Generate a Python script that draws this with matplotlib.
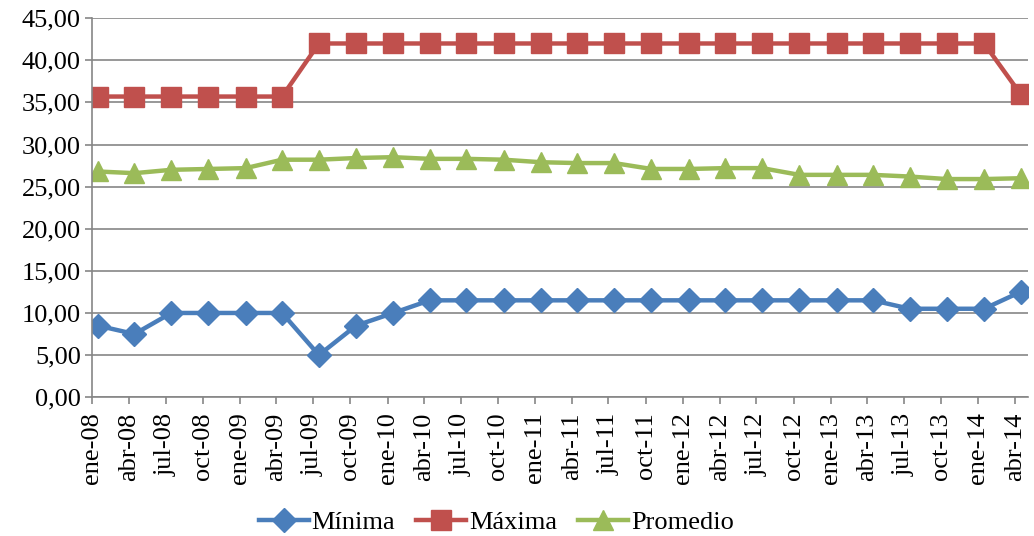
import matplotlib
matplotlib.use("Agg")
import matplotlib.pyplot as plt
import matplotlib.dates as mdates
from matplotlib.ticker import FuncFormatter, MultipleLocator
import pandas as pd

# quarterly readings, Jan 2008 - Apr 2014
minima = [8.5, 7.5, 10.0, 10.0, 10.0, 10.0, 5.0, 8.5, 10.0, 11.5,
          11.5, 11.5, 11.5, 11.5, 11.5, 11.5, 11.5, 11.5, 11.5, 11.5,
          11.5, 11.5, 10.5, 10.5, 10.5, 12.5]
maxima = [35.7, 35.7, 35.7, 35.7, 35.7, 35.7, 42.0, 42.0, 42.0, 42.0,
          42.0, 42.0, 42.0, 42.0, 42.0, 42.0, 42.0, 42.0, 42.0, 42.0,
          42.0, 42.0, 42.0, 42.0, 42.0, 36.0]
promedio = [26.8, 26.6, 27.0, 27.1, 27.2, 28.2, 28.2, 28.4, 28.5, 28.3,
            28.3, 28.2, 27.9, 27.8, 27.8, 27.1, 27.1, 27.2, 27.2, 26.4,
            26.4, 26.4, 26.2, 25.9, 25.9, 26.0]

meses = {1: "ene", 4: "abr", 7: "jul", 10: "oct"}

# readings are dated mid-month; ticks sit on the first of each quarter
fechas = pd.date_range("2008-01-01", periods=len(minima), freq="3MS") + pd.Timedelta(days=14)

AZUL = "#4A7EBB"
ROJO = "#C0504D"
VERDE = "#9BBB59"
GRIS = "#868686"

plt.rcParams["font.family"] = ["Liberation Serif", "DejaVu Serif"]

fig = plt.figure(figsize=(10.34, 5.36), dpi=100)
ax = fig.add_axes([0.089, 0.259, 0.905, 0.707])

ax.plot(fechas, minima, color=AZUL, lw=3.2, marker="D", ms=12, label="Mínima")
ax.plot(fechas, maxima, color=ROJO, lw=3.2, marker="s", ms=14, label="Máxima")
ax.plot(fechas, promedio, color=VERDE, lw=3.2, marker="^", ms=15, label="Promedio")

ax.set_ylim(0, 45)
ax.yaxis.set_major_locator(MultipleLocator(5))
ax.yaxis.set_major_formatter(FuncFormatter(lambda v, _: f"{v:.2f}".replace(".", ",")))

ax.set_xlim(pd.Timestamp("2008-01-01"), pd.Timestamp("2014-05-03"))
ax.xaxis.set_major_locator(mdates.MonthLocator(bymonth=[1, 4, 7, 10]))


def etiqueta(x, _):
    d = mdates.num2date(x)
    return f"{meses[d.month]}-{d.year % 100:02d}"


ax.xaxis.set_major_formatter(FuncFormatter(etiqueta))
plt.setp(ax.get_xticklabels(), rotation=90)

ax.grid(axis="y", color=GRIS, lw=1.2)
ax.set_axisbelow(True)
for s in ("top", "right"):
    ax.spines[s].set_visible(False)
for s in ("left", "bottom"):
    ax.spines[s].set_color(GRIS)
    ax.spines[s].set_linewidth(1.2)
ax.tick_params(axis="both", direction="out", length=5, width=1.2, color=GRIS,
               labelsize=19, labelcolor="black")
ax.tick_params(axis="y", pad=3)
ax.tick_params(axis="x", pad=6)

ax.legend(loc="center", bbox_to_anchor=(0.48, 0.026), bbox_transform=fig.transFigure,
          ncol=3, frameon=False, fontsize=19, handlelength=1.9, handletextpad=0.1,
          columnspacing=0.8)

fig.savefig("out.png", dpi=100)
